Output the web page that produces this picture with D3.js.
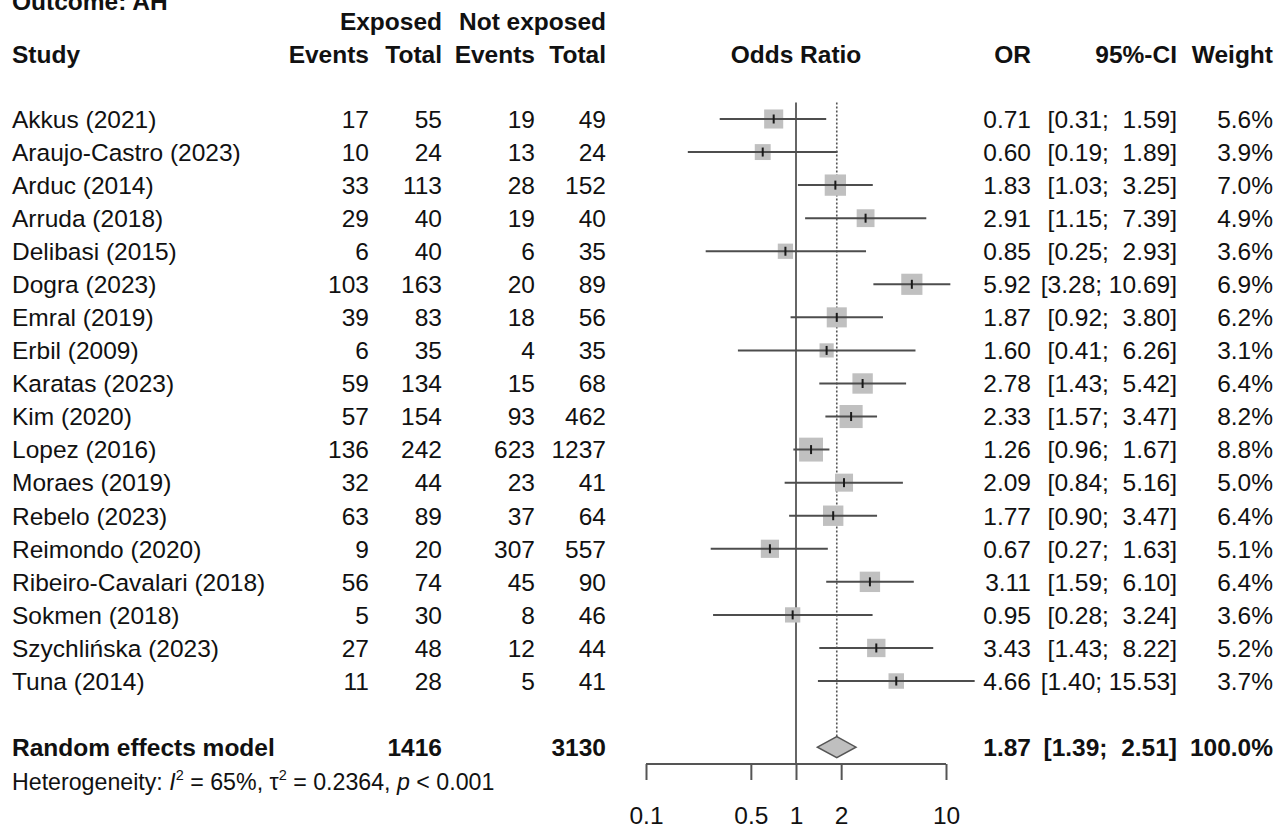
<!DOCTYPE html>
<html lang="en">
<head>
<meta charset="UTF-8">
<script src="https://d3js.org/d3.v7.min.js"></script>
<style>
body{
	margin: 0;
	background-color: white;
}
svg text{
	font-family: "Liberation Sans", Arial, sans-serif;
	font-size: 24.5px;
	fill: #111;
}
.bold{
	font-weight: bold;
}
</style>
</head>
<body>
<svg width="1276" height="828"></svg>

<script>
// data
const studies = ["Akkus (2021)", "Araujo-Castro (2023)", "Arduc (2014)", "Arruda (2018)", "Delibasi (2015)", "Dogra (2023)",
	"Emral (2019)", "Erbil (2009)", "Karatas (2023)", "Kim (2020)", "Lopez (2016)", "Moraes (2019)", "Rebelo (2023)",
	"Reimondo (2020)", "Ribeiro-Cavalari (2018)", "Sokmen (2018)", "Szychlińska (2023)", "Tuna (2014)"]
const expEvents = [17, 10, 33, 29, 6, 103, 39, 6, 59, 57, 136, 32, 63, 9, 56, 5, 27, 11]
const expTotal = [55, 24, 113, 40, 40, 163, 83, 35, 134, 154, 242, 44, 89, 20, 74, 30, 48, 28]
const ctrlEvents = [19, 13, 28, 19, 6, 20, 18, 4, 15, 93, 623, 23, 37, 307, 45, 8, 12, 5]
const ctrlTotal = [49, 24, 152, 40, 35, 89, 56, 35, 68, 462, 1237, 41, 64, 557, 90, 46, 44, 41]
const oddsRatio = [0.71, 0.60, 1.83, 2.91, 0.85, 5.92, 1.87, 1.60, 2.78, 2.33, 1.26, 2.09, 1.77, 0.67, 3.11, 0.95, 3.43, 4.66]
const ciLower = [0.31, 0.19, 1.03, 1.15, 0.25, 3.28, 0.92, 0.41, 1.43, 1.57, 0.96, 0.84, 0.90, 0.27, 1.59, 0.28, 1.43, 1.40]
const ciUpper = [1.59, 1.89, 3.25, 7.39, 2.93, 10.69, 3.80, 6.26, 5.42, 3.47, 1.67, 5.16, 3.47, 1.63, 6.10, 3.24, 8.22, 15.53]
const weights = [5.6, 3.9, 7.0, 4.9, 3.6, 6.9, 6.2, 3.1, 6.4, 8.2, 8.8, 5.0, 6.4, 5.1, 6.4, 3.6, 5.2, 3.7]

const pooled = {or: 1.87, lower: 1.39, upper: 2.51, weight: 100.0, expTotal: 1416, ctrlTotal: 3130}
const hetI2 = "65%", hetTau2 = "0.2364", hetP = "< 0.001"
const axisTicks = [0.1, 0.5, 1, 2, 10]

const svg = d3.select("svg")

// rows: 18 studies, a blank, the pooled row, heterogeneity
const rowY = d3.scaleLinear().domain([0, 1]).range([119, 152.06])
const base = 8.8 // text baseline below row centre

const x = d3.scaleLog().domain([0.1, 10]).range([646, 946])
const side = d3.scaleSqrt().domain([0, 8.8]).range([0, 23.9])

const colStudy = 12, colExpEv = 369, colExpTot = 442, colCtrlEv = 535, colCtrlTot = 606
const colOR = 1031, colCI = 1177, colW = 1273

const fmt2 = d3.format(".2f"), fmt1 = d3.format(".1f")
// upper limits padded like R does ( " 1.59" next to "10.69")
function ciText(lo, hi){
	let h = fmt2(hi)
	return "[" + fmt2(lo) + "; " + (h.length < 5 ? " " : "") + h + "]"
}

function txt(xx, yy, s, anchor, cls){
	return svg.append("text").attr("x", xx).attr("y", yy).attr("text-anchor", anchor || "start")
		.attr("class", cls || null).attr("xml:space", "preserve").text(s)
}

// header
txt(colStudy, 10, "Outcome: AH", "start", "bold")
txt(colExpTot, rowY(-3) + base + 1.5, "Exposed", "end", "bold")
txt(colCtrlTot, rowY(-3) + base + 1.5, "Not exposed", "end", "bold")
txt(colStudy, rowY(-2) + base + 1.5, "Study", "start", "bold")
txt(colExpEv, rowY(-2) + base + 1.5, "Events", "end", "bold")
txt(colExpTot, rowY(-2) + base + 1.5, "Total", "end", "bold")
txt(colCtrlEv, rowY(-2) + base + 1.5, "Events", "end", "bold")
txt(colCtrlTot, rowY(-2) + base + 1.5, "Total", "end", "bold")
txt(x(1), rowY(-2) + base + 1.5, "Odds Ratio", "middle", "bold")
txt(colOR, rowY(-2) + base + 1.5, "OR", "end", "bold")
txt(colCI, rowY(-2) + base + 1.5, "95%-CI", "end", "bold")
txt(colW, rowY(-2) + base + 1.5, "Weight", "end", "bold")

const rows = studies.map(function(d, i){
	return {name: d, ee: expEvents[i], et: expTotal[i], ce: ctrlEvents[i], ct: ctrlTotal[i],
		or: oddsRatio[i], lo: ciLower[i], hi: ciUpper[i], w: weights[i], i: i}
})

// text columns
const tg = svg.append("g")
function column(xx, anchor, f){
	tg.selectAll(null).data(rows).join("text")
		.attr("x", xx).attr("y", function(d){return rowY(d.i) + base})
		.attr("text-anchor", anchor)
		.attr("xml:space", "preserve")
		.text(f)
}
column(colStudy, "start", function(d){return d.name})
column(colExpEv, "end", function(d){return d.ee})
column(colExpTot, "end", function(d){return d.et})
column(colCtrlEv, "end", function(d){return d.ce})
column(colCtrlTot, "end", function(d){return d.ct})
column(colOR, "end", function(d){return fmt2(d.or)})
column(colCI, "end", function(d){return ciText(d.lo, d.hi)})
column(colW, "end", function(d){return fmt1(d.w) + "%"})

// pooled row
const yRE = rowY(19)
txt(colStudy, yRE + base, "Random effects model", "start", "bold")
txt(colExpTot, yRE + base, pooled.expTotal, "end", "bold")
txt(colCtrlTot, yRE + base, pooled.ctrlTotal, "end", "bold")
txt(colOR, yRE + base, fmt2(pooled.or), "end", "bold")
txt(colCI, yRE + base, ciText(pooled.lower, pooled.upper), "end", "bold")
txt(colW, yRE + base, fmt1(pooled.weight) + "%", "end", "bold")

// heterogeneity line, a touch smaller like meta's hetstat text
const het = svg.append("text").attr("x", colStudy).attr("y", rowY(20) + base + 1)
	.attr("xml:space", "preserve").style("font-size", "23.2px")
het.append("tspan").text("Heterogeneity: ")
het.append("tspan").style("font-style", "italic").text("I")
het.append("tspan").attr("dy", -10).style("font-size", "14.5px").text("2")
het.append("tspan").attr("dy", 10).text(" = " + hetI2 + ", τ")
het.append("tspan").attr("dy", -10).style("font-size", "14.5px").text("2")
het.append("tspan").attr("dy", 10).text(" = " + hetTau2 + ", ")
het.append("tspan").style("font-style", "italic").text("p")
het.append("tspan").text(" " + hetP)

// plot
const plotTop = rowY(-0.5)
const axisY = 764

svg.append("line")
	.attr("x1", x(1)).attr("x2", x(1)).attr("y1", plotTop).attr("y2", axisY)
	.style("stroke", "#666").style("stroke-width", 2)

svg.append("line")
	.attr("x1", x(pooled.or)).attr("x2", x(pooled.or)).attr("y1", plotTop).attr("y2", yRE - 10.5)
	.style("stroke", "#555").style("stroke-width", 1.6).style("stroke-dasharray", "2,2")

const pg = svg.append("g")

pg.selectAll(".sq").data(rows).join("rect")
	.attr("class", "sq")
	.attr("x", function(d){return x(d.or) - side(d.w) / 2})
	.attr("y", function(d){return rowY(d.i) - side(d.w) / 2})
	.attr("width", function(d){return side(d.w)})
	.attr("height", function(d){return side(d.w)})
	.style("fill", "#c0c0c0")

pg.selectAll(".ci").data(rows).join("line")
	.attr("class", "ci")
	.attr("x1", function(d){return x(d.lo)}).attr("x2", function(d){return x(d.hi)})
	.attr("y1", function(d){return rowY(d.i)}).attr("y2", function(d){return rowY(d.i)})
	.style("stroke", "#4d4d4d").style("stroke-width", 2)

pg.selectAll(".mark").data(rows).join("line")
	.attr("class", "mark")
	.attr("x1", function(d){return x(d.or)}).attr("x2", function(d){return x(d.or)})
	.attr("y1", function(d){return rowY(d.i) - 4.5}).attr("y2", function(d){return rowY(d.i) + 4.5})
	.style("stroke", "#1a1a1a").style("stroke-width", 2)

// diamond
svg.append("path")
	.attr("d", "M" + x(pooled.lower) + "," + yRE + "L" + x(pooled.or) + "," + (yRE - 10.5)
		+ "L" + x(pooled.upper) + "," + yRE + "L" + x(pooled.or) + "," + (yRE + 10.5) + "Z")
	.style("fill", "#bfbfbf").style("stroke", "#555").style("stroke-width", 1.5)

// axis
const axis = d3.axisBottom(x).tickValues(axisTicks).tickSize(16).tickPadding(27)
	.tickFormat(function(d){return String(d)})
const ag = svg.append("g").attr("transform", "translate(0," + axisY + ")").call(axis)
ag.select(".domain").attr("d", "M" + x(0.1) + ",0H" + x(10)).style("stroke", "#555").style("stroke-width", 2)
ag.selectAll(".tick line").style("stroke", "#555").style("stroke-width", 2)
ag.selectAll(".tick text").style("font-size", "24.5px").style("font-family", "'Liberation Sans', Arial, sans-serif").style("fill", "#111")
</script>
</body>
</html>
